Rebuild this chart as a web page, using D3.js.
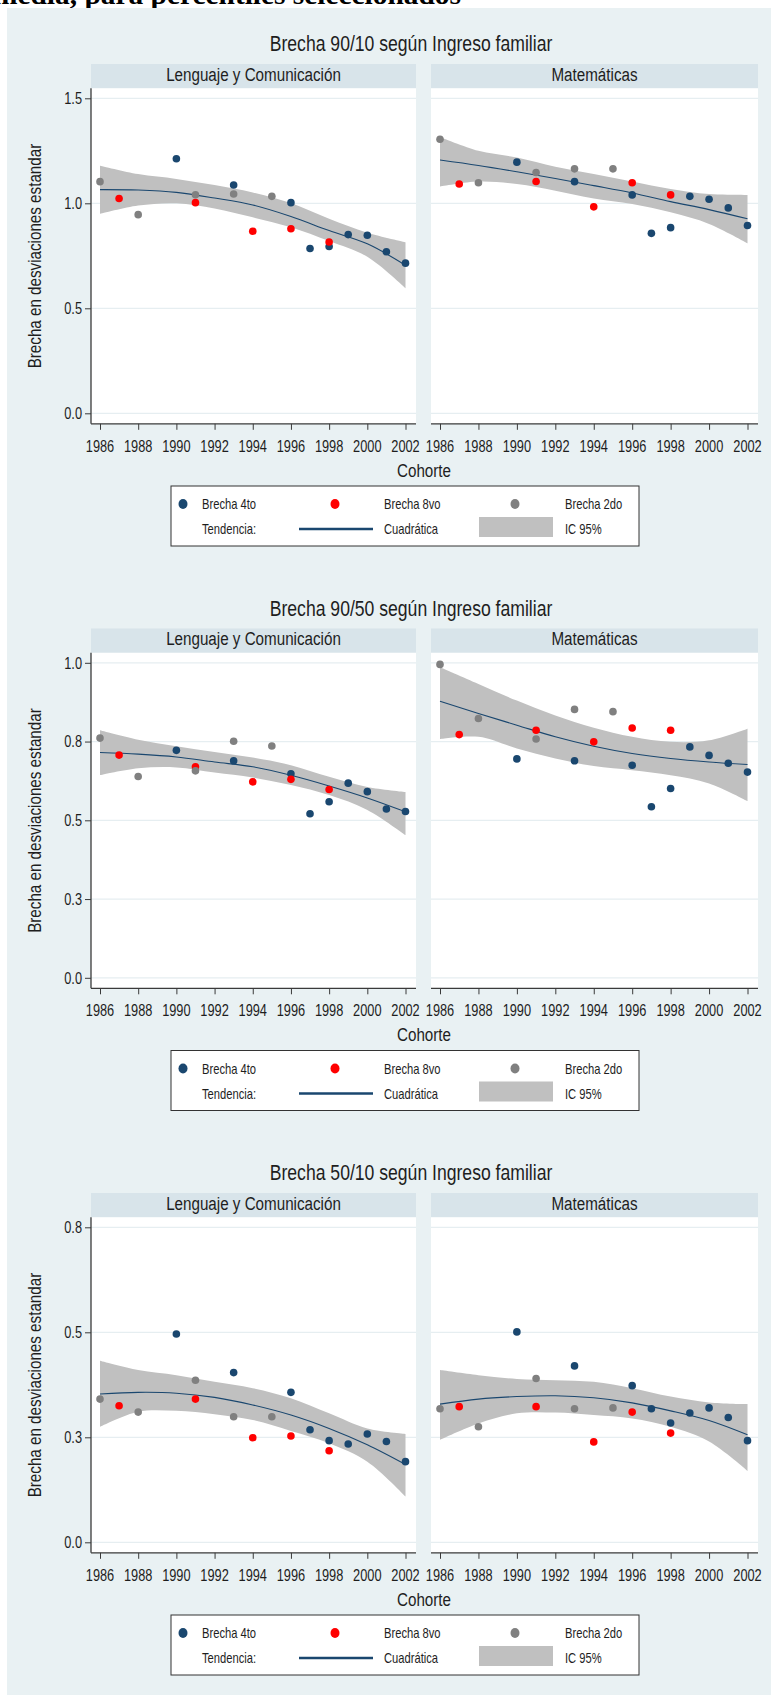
<!DOCTYPE html>
<html><head><meta charset="utf-8">
<script src="https://cdn.jsdelivr.net/npm/d3@7/dist/d3.min.js"></script>
<style>body{margin:0;background:#fff;overflow:hidden}</style>
</head><body>
<svg id="c" width="771" height="1695"></svg>
<script>
// ---------------- DATA ----------------
const chartTitles = ["Brecha 90/10 según Ingreso familiar", "Brecha 90/50 según Ingreso familiar", "Brecha 50/10 según Ingreso familiar"];
const subjects = ["Lenguaje y Comunicación", "Matemáticas"];
const xTickValues = [1986, 1988, 1990, 1992, 1994, 1996, 1998, 2000, 2002];
const xTickLabels = ["1986", "1988", "1990", "1992", "1994", "1996", "1998", "2000", "2002"];
const years4to = [1990, 1993, 1996, 1997, 1998, 1999, 2000, 2001, 2002];
const years8vo = [1987, 1991, 1994, 1996, 1998];
const years2do = [1986, 1988, 1991, 1993, 1995];
const fitYears = [1986, 1988, 1990, 1992, 1994, 1996, 1998, 2000, 2002];

const yTicks9010 = [0, 0.5, 1, 1.5];
const yLabels9010 = ["0.0", "0.5", "1.0", "1.5"];
const yTicks9050 = [0, 0.25, 0.5, 0.75, 1];
const yLabels9050 = ["0.0", "0.3", "0.5", "0.8", "1.0"];
const yTicks5010 = [0, 0.25, 0.5, 0.75];
const yLabels5010 = ["0.0", "0.3", "0.5", "0.8"];

// Brecha 90/10 - Lenguaje
const len9010_4to = [1.212, 1.087, 1.003, 0.785, 0.794, 0.851, 0.848, 0.769, 0.715];
const len9010_8vo = [1.023, 1.003, 0.867, 0.879, 0.816];
const len9010_2do = [1.103, 0.946, 1.041, 1.044, 1.033];
const len9010_fit = [1.065, 1.063, 1.052, 1.025, 0.992, 0.937, 0.870, 0.807, 0.705];
const len9010_hi  = [1.179, 1.139, 1.116, 1.087, 1.052, 1.001, 0.926, 0.860, 0.815];
const len9010_lo  = [0.949, 0.989, 1.000, 0.975, 0.933, 0.886, 0.820, 0.745, 0.595];
// Brecha 90/10 - Matemáticas
const mat9010_4to = [1.196, 1.103, 1.040, 0.857, 0.884, 1.033, 1.019, 0.978, 0.894];
const mat9010_8vo = [1.092, 1.104, 0.983, 1.098, 1.040];
const mat9010_2do = [1.305, 1.098, 1.147, 1.164, 1.164];
const mat9010_fit = [1.206, 1.180, 1.150, 1.118, 1.084, 1.049, 1.008, 0.970, 0.926];
const mat9010_hi  = [1.316, 1.250, 1.218, 1.174, 1.139, 1.104, 1.068, 1.044, 1.040];
const mat9010_lo  = [1.080, 1.104, 1.092, 1.060, 1.023, 0.997, 0.957, 0.902, 0.810];
// Brecha 90/50 - Lenguaje
const len9050_4to = [0.722, 0.689, 0.648, 0.521, 0.559, 0.618, 0.591, 0.536, 0.528];
const len9050_8vo = [0.707, 0.670, 0.622, 0.630, 0.598];
const len9050_2do = [0.761, 0.639, 0.657, 0.751, 0.736];
const len9050_fit = [0.715, 0.710, 0.701, 0.685, 0.670, 0.643, 0.609, 0.571, 0.527];
const len9050_hi  = [0.786, 0.756, 0.735, 0.717, 0.699, 0.675, 0.638, 0.606, 0.590];
const len9050_lo  = [0.643, 0.665, 0.668, 0.652, 0.636, 0.612, 0.580, 0.533, 0.453];
// Brecha 90/50 - Matemáticas
const mat9050_4to = [0.695, 0.689, 0.675, 0.543, 0.601, 0.733, 0.706, 0.681, 0.653];
const mat9050_8vo = [0.772, 0.786, 0.749, 0.793, 0.786];
const mat9050_2do = [0.995, 0.823, 0.758, 0.852, 0.845];
const mat9050_fit = [0.878, 0.839, 0.802, 0.765, 0.735, 0.712, 0.696, 0.685, 0.677];
const mat9050_hi  = [0.986, 0.933, 0.880, 0.833, 0.794, 0.765, 0.749, 0.754, 0.791];
const mat9050_lo  = [0.758, 0.765, 0.728, 0.696, 0.672, 0.659, 0.643, 0.617, 0.561];
// Brecha 50/10 - Lenguaje
const len5010_4to = [0.496, 0.404, 0.357, 0.268, 0.242, 0.234, 0.258, 0.240, 0.192];
const len5010_8vo = [0.325, 0.341, 0.249, 0.253, 0.218];
const len5010_2do = [0.341, 0.310, 0.386, 0.299, 0.299];
const len5010_fit = [0.353, 0.357, 0.355, 0.345, 0.327, 0.303, 0.271, 0.232, 0.185];
const len5010_hi  = [0.432, 0.410, 0.398, 0.382, 0.367, 0.343, 0.307, 0.271, 0.258];
const len5010_lo  = [0.275, 0.311, 0.313, 0.305, 0.291, 0.265, 0.236, 0.192, 0.109];
// Brecha 50/10 - Matemáticas
const mat5010_4to = [0.501, 0.420, 0.373, 0.318, 0.284, 0.308, 0.320, 0.297, 0.242];
const mat5010_8vo = [0.323, 0.323, 0.239, 0.310, 0.260];
const mat5010_2do = [0.318, 0.275, 0.390, 0.318, 0.320];
const mat5010_fit = [0.329, 0.341, 0.347, 0.349, 0.344, 0.332, 0.313, 0.290, 0.256];
const mat5010_hi  = [0.410, 0.398, 0.389, 0.386, 0.382, 0.367, 0.347, 0.333, 0.329];
const mat5010_lo  = [0.244, 0.283, 0.307, 0.309, 0.303, 0.295, 0.275, 0.240, 0.170];

const legendLabels = ["Brecha 4to", "Brecha 8vo", "Brecha 2do"];
const legendRow2 = ["Tendencia:", "Cuadrática", "IC 95%"];

// ---------------- STYLE ----------------
const BG = "#e9f1f3", STRIP = "#d8e4ea", GRID = "#e6eef1";
const NAVY = "#1a476f", RED = "#ff0000", GRAY = "#808080", BAND = "#c0c0c0";
const AXIS = "#3a3a3a", TXT = "#1e1e1e";
const FONT = "'Liberation Sans', Arial, sans-serif";
const SX = 0.80;

const charts = [
  {title: chartTitles[0], yTicks: yTicks9010, yLabels: yLabels9010, ymax: 1.5, panels: [
    {b4: len9010_4to, b8: len9010_8vo, b2: len9010_2do, fit: len9010_fit, hi: len9010_hi, lo: len9010_lo},
    {b4: mat9010_4to, b8: mat9010_8vo, b2: mat9010_2do, fit: mat9010_fit, hi: mat9010_hi, lo: mat9010_lo}]},
  {title: chartTitles[1], yTicks: yTicks9050, yLabels: yLabels9050, ymax: 1.0, panels: [
    {b4: len9050_4to, b8: len9050_8vo, b2: len9050_2do, fit: len9050_fit, hi: len9050_hi, lo: len9050_lo},
    {b4: mat9050_4to, b8: mat9050_8vo, b2: mat9050_2do, fit: mat9050_fit, hi: mat9050_hi, lo: mat9050_lo}]},
  {title: chartTitles[2], yTicks: yTicks5010, yLabels: yLabels5010, ymax: 0.75, panels: [
    {b4: len5010_4to, b8: len5010_8vo, b2: len5010_2do, fit: len5010_fit, hi: len5010_hi, lo: len5010_lo},
    {b4: mat5010_4to, b8: mat5010_8vo, b2: mat5010_2do, fit: mat5010_fit, hi: mat5010_hi, lo: mat5010_lo}]}
];

const svg = d3.select("#c");

function label(g, x, y, s, size, anchor, rot, color, weight) {
  let tr = `translate(${x},${y})` + (rot ? ` rotate(${rot})` : "") + ` scale(${SX},1)`;
  return g.append("text").attr("transform", tr)
    .attr("text-anchor", anchor || "middle")
    .attr("font-family", FONT).attr("font-size", size)
    .attr("font-weight", weight || "normal")
    .attr("fill", color || TXT).text(s);
}

// page header (cut off document heading)
svg.append("text").attr("x", -7).attr("y", 4)
  .attr("font-family", "'Liberation Serif', 'Times New Roman', serif")
  .attr("font-weight", "bold").attr("font-size", 28)
  .attr("textLength", 468).attr("lengthAdjust", "spacingAndGlyphs")
  .attr("fill", "#000").text("media, para percentiles seleccionados");

// background
svg.append("rect").attr("x", 7).attr("y", 8).attr("width", 771 - 7).attr("height", 1695 - 8).attr("fill", BG);

const PERIOD = 564.5;
const panelX = [[91, 416], [431, 758]];

charts.forEach((ch, k) => {
  const off = k * PERIOD;
  const g = svg.append("g");
  const top = 88.3 + off, bottom = 423.8 + off;

  label(g, 411, 51 + off, ch.title, 22);

  const y = d3.scaleLinear().domain([0, ch.ymax]).range([bottom - 10.5, top + 10]);

  ch.panels.forEach((p, pi) => {
    const [x0, x1] = panelX[pi];
    const x = d3.scaleLinear().domain([1986, 2002]).range([x0 + 9, x1 - 10.5]);
    // strip
    g.append("rect").attr("x", x0).attr("y", top - 24.3).attr("width", x1 - x0).attr("height", 24.3).attr("fill", STRIP);
    label(g, (x0 + x1) / 2, top - 7.5, subjects[pi], 19);
    // plot area
    g.append("rect").attr("x", x0).attr("y", top).attr("width", x1 - x0).attr("height", bottom - top).attr("fill", "#fff");
    // grid
    g.append("g").selectAll("line").data(ch.yTicks).join("line")
      .attr("x1", x0).attr("x2", x1).attr("y1", d => y(d)).attr("y2", d => y(d))
      .attr("stroke", GRID).attr("stroke-width", 1.2);

    const fitData = fitYears.map((yr, i) => ({yr, f: p.fit[i], hi: p.hi[i], lo: p.lo[i]}));
    const curve = d3.curveCatmullRom.alpha(0.5);
    g.append("path").datum(fitData)
      .attr("d", d3.area().x(d => x(d.yr)).y0(d => y(d.lo)).y1(d => y(d.hi)).curve(curve))
      .attr("fill", BAND);
    g.append("path").datum(fitData)
      .attr("d", d3.line().x(d => x(d.yr)).y(d => y(d.f)).curve(curve))
      .attr("fill", "none").attr("stroke", NAVY).attr("stroke-width", 1.1);

    const series = [[years4to, p.b4, NAVY], [years8vo, p.b8, RED], [years2do, p.b2, GRAY]];
    series.forEach(([yrs, vals, col]) => {
      g.append("g").selectAll("circle").data(yrs.map((yr, i) => [yr, vals[i]])).join("circle")
        .attr("cx", d => x(d[0])).attr("cy", d => y(d[1])).attr("r", 3.8).attr("fill", col);
    });

    // x axis
    const xa = g.append("g").attr("transform", `translate(0,${bottom})`)
      .call(d3.axisBottom(x).tickValues(xTickValues).tickFormat("").tickSize(6).tickSizeOuter(0));
    xa.select(".domain").remove();
    xa.selectAll(".tick line").attr("stroke", AXIS);
    g.append("line").attr("x1", x0).attr("x2", x1).attr("y1", bottom).attr("y2", bottom)
      .attr("stroke", AXIS).attr("stroke-width", 1.3);
    xTickValues.forEach((v, i) => label(g, x(v), bottom + 28, xTickLabels[i], 16));

    if (pi === 0) {
      const ya = g.append("g").attr("transform", `translate(${x0},0)`)
        .call(d3.axisLeft(y).tickValues(ch.yTicks).tickFormat("").tickSize(6).tickSizeOuter(0));
      ya.select(".domain").remove();
      ya.selectAll(".tick line").attr("stroke", AXIS);
      g.append("line").attr("x1", x0).attr("x2", x0).attr("y1", top).attr("y2", bottom)
        .attr("stroke", AXIS).attr("stroke-width", 1.3);
      ch.yTicks.forEach((v, i) => label(g, x0 - 9, y(v) + 5.7, ch.yLabels[i], 16, "end"));
    }
  });

  label(g, 41, (top + bottom) / 2, "Brecha en desviaciones estandar", 19, "middle", -90);
  label(g, 424, bottom + 53, "Cohorte", 19);

  // legend
  const ly = 486 + off;
  g.append("rect").attr("x", 171).attr("y", ly).attr("width", 468).attr("height", 60)
    .attr("fill", "#fff").attr("stroke", "#333").attr("stroke-width", 1);
  const mx = [183, 335, 515], tx = [202, 384, 565], cols = [NAVY, RED, GRAY];
  legendLabels.forEach((s, i) => {
    g.append("ellipse").attr("cx", mx[i]).attr("cy", ly + 18).attr("rx", 4.5).attr("ry", 5).attr("fill", cols[i]);
    label(g, tx[i], ly + 23, s, 14, "start");
  });
  label(g, 202, ly + 48, legendRow2[0], 14, "start");
  g.append("line").attr("x1", 299).attr("x2", 373).attr("y1", ly + 43).attr("y2", ly + 43)
    .attr("stroke", NAVY).attr("stroke-width", 2.5);
  label(g, 384, ly + 48, legendRow2[1], 14, "start");
  g.append("rect").attr("x", 479).attr("y", ly + 31).attr("width", 74).attr("height", 20).attr("fill", BAND);
  label(g, 565, ly + 48, legendRow2[2], 14, "start");
});
</script>
</body></html>
